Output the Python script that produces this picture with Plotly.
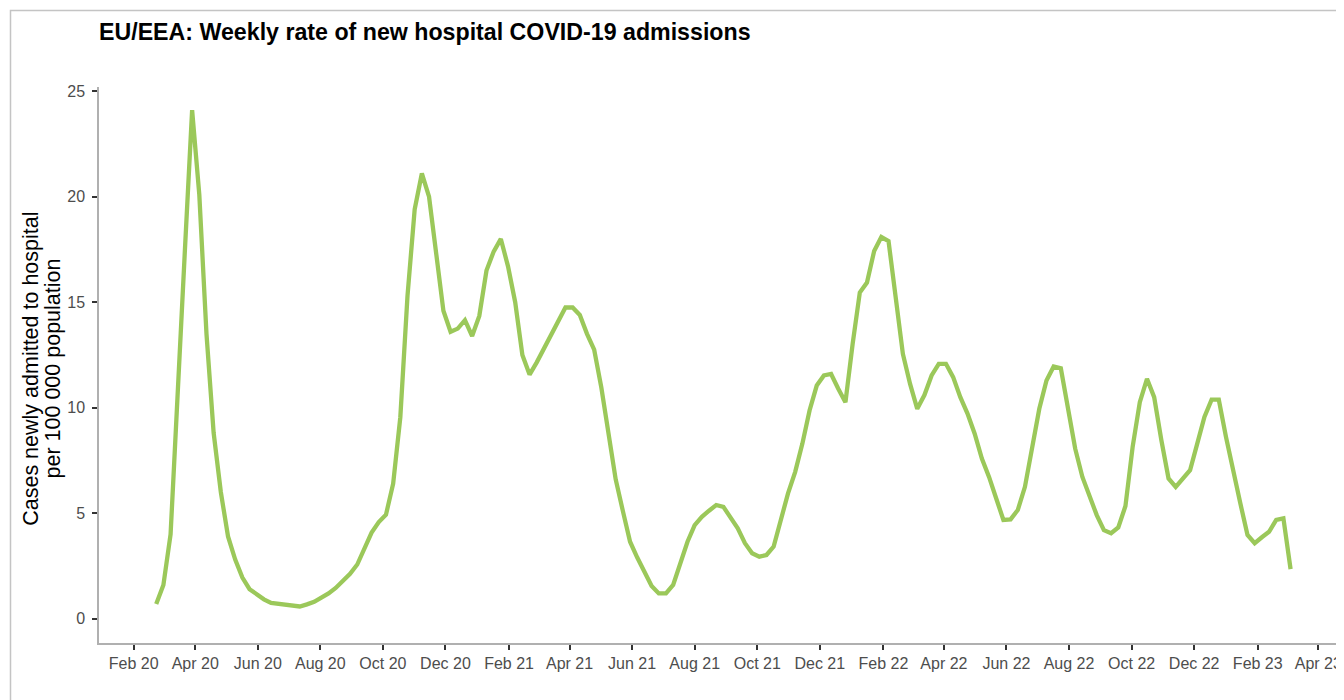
import pandas as pd
import plotly.graph_objects as go

# Weekly reporting points (one per week, week ending Sunday)
week_start = "2020-02-23"
n_weeks = 159
weeks = pd.date_range(week_start, periods=n_weeks, freq="7D")

# Weekly rate of new hospital admissions per 100 000 population
rate = [
    0.7, 1.6, 4.0, 10.3, 17.5, 24.1, 20.1, 13.5, 8.8, 6.0,
    3.9, 2.8, 1.95, 1.4, 1.15, 0.92, 0.75, 0.7, 0.66, 0.62,
    0.58, 0.68, 0.8, 1.0, 1.2, 1.46, 1.8, 2.13, 2.57, 3.3,
    4.08, 4.58, 4.93, 6.4, 9.55, 15.3, 19.4, 21.1, 20.0, 17.3,
    14.6, 13.6, 13.75, 14.15, 13.4, 14.35, 16.5, 17.4, 18.0, 16.7,
    15.0, 12.5, 11.57, 12.15, 12.8, 13.5, 14.15, 14.75, 14.75, 14.4,
    13.5, 12.75, 10.95, 8.7, 6.6, 5.1, 3.65, 2.9, 2.2, 1.55,
    1.2, 1.2, 1.6, 2.55, 3.65, 4.44, 4.83, 5.12, 5.39, 5.3,
    4.83, 4.28, 3.58, 3.1, 2.94, 3.02, 3.42, 4.68, 5.94, 6.96,
    8.3, 9.87, 11.05, 11.53, 11.6, 10.9, 10.26, 13.02, 15.46, 15.93,
    17.43, 18.09, 17.9, 15.22, 12.55, 11.13, 9.95, 10.6, 11.53, 12.08,
    12.08, 11.45, 10.5, 9.72, 8.77, 7.59, 6.72, 5.7, 4.68, 4.71,
    5.15, 6.25, 8.14, 9.95, 11.29, 11.95, 11.87, 9.95, 8.06, 6.72,
    5.86, 4.91, 4.2, 4.05, 4.33, 5.34, 8.14, 10.26, 11.37, 10.5,
    8.46, 6.65, 6.25, 6.65, 7.04, 8.3, 9.56, 10.38, 10.38, 8.62,
    6.96, 5.47, 3.97, 3.58, 3.86, 4.12, 4.68, 4.76, 2.35,
]

# X tick positions and labels
x_tick_dates = [
    "2020-02-01", "2020-04-01", "2020-06-01", "2020-08-01", "2020-10-01",
    "2020-12-01", "2021-02-01", "2021-04-01", "2021-06-01", "2021-08-01",
    "2021-10-01", "2021-12-01", "2022-02-01", "2022-04-01", "2022-06-01",
    "2022-08-01", "2022-10-01", "2022-12-01", "2023-02-01", "2023-04-01",
]
x_tick_labels = [
    "Feb 20", "Apr 20", "Jun 20", "Aug 20", "Oct 20", "Dec 20",
    "Feb 21", "Apr 21", "Jun 21", "Aug 21", "Oct 21", "Dec 21",
    "Feb 22", "Apr 22", "Jun 22", "Aug 22", "Oct 22", "Dec 22",
    "Feb 23", "Apr 23",
]
y_tick_vals = [0, 5, 10, 15, 20, 25]

title_text = "EU/EEA: Weekly rate of new hospital COVID-19 admissions"
y_title_lines = ["Cases newly admitted to hospital", "per 100 000 population"]

FONT = "Liberation Sans, Arial, Helvetica, sans-serif"

W, H = 1336, 692
L, T, B = 91, 79, 57
PW = W - L
PH = H - T - B

fig = go.Figure()
fig.add_trace(go.Scatter(
    x=weeks, y=rate, mode="lines",
    line=dict(color="#9BC85A", width=4.3),
    hoverinfo="skip", showlegend=False,
))

fig.update_layout(
    width=W, height=H,
    margin=dict(l=L, r=0, t=T, b=B, pad=0),
    paper_bgcolor="white", plot_bgcolor="white",
    font=dict(family=FONT, color="#4d4d4d"),
    showlegend=False,
    title=dict(
        text="<b>" + title_text + "</b>",
        x=0, xref="paper", xanchor="left",
        y=1 - 23.4 / H, yref="container", yanchor="middle",
        font=dict(family=FONT, size=23.2, color="#000000"),
    ),
)

fig.update_xaxes(
    range=["2019-12-29 05:00", "2023-04-26 02:00"],
    tickmode="array", tickvals=x_tick_dates, ticktext=x_tick_labels,
    ticks="outside", ticklen=5, tickwidth=1.5, tickcolor="#333333",
    showline=True, linecolor="#b0b0b0", linewidth=1.5,
    showgrid=False, zeroline=False,
    tickfont=dict(family=FONT, size=16, color="#4d4d4d"),
)
fig.update_yaxes(
    range=[-1.15, 25.2],
    tickmode="array", tickvals=y_tick_vals,
    ticks="outside", ticklen=5, tickwidth=1.5, tickcolor="#333333",
    showline=True, linecolor="#b0b0b0", linewidth=1.5,
    showgrid=False, zeroline=False,
    ticklabelstandoff=4,
    tickfont=dict(family=FONT, size=16, color="#4d4d4d"),
)

# Y-axis title, two rotated lines
y_mid = (H - B - 361) / PH
for line_text, cx in zip(y_title_lines, [22.8, 44.5]):
    fig.add_annotation(
        text=line_text, textangle=-90,
        xref="paper", yref="paper",
        x=(cx - L) / PW, y=y_mid,
        xanchor="center", yanchor="middle",
        showarrow=False,
        font=dict(family=FONT, size=21.5, color="#000000"),
    )

# Outer panel frame (left and top edges visible)
fx = (2.5 - L) / PW
fy = (H - B - 2.5) / PH
fig.add_shape(
    type="path",
    xref="paper", yref="paper",
    path="M %f %f L %f %f L %f %f" % (fx, -0.2, fx, fy, 1.2, fy),
    line=dict(color="#c4c4c4", width=1.5),
    layer="below",
)

fig.write_html("out.html")
